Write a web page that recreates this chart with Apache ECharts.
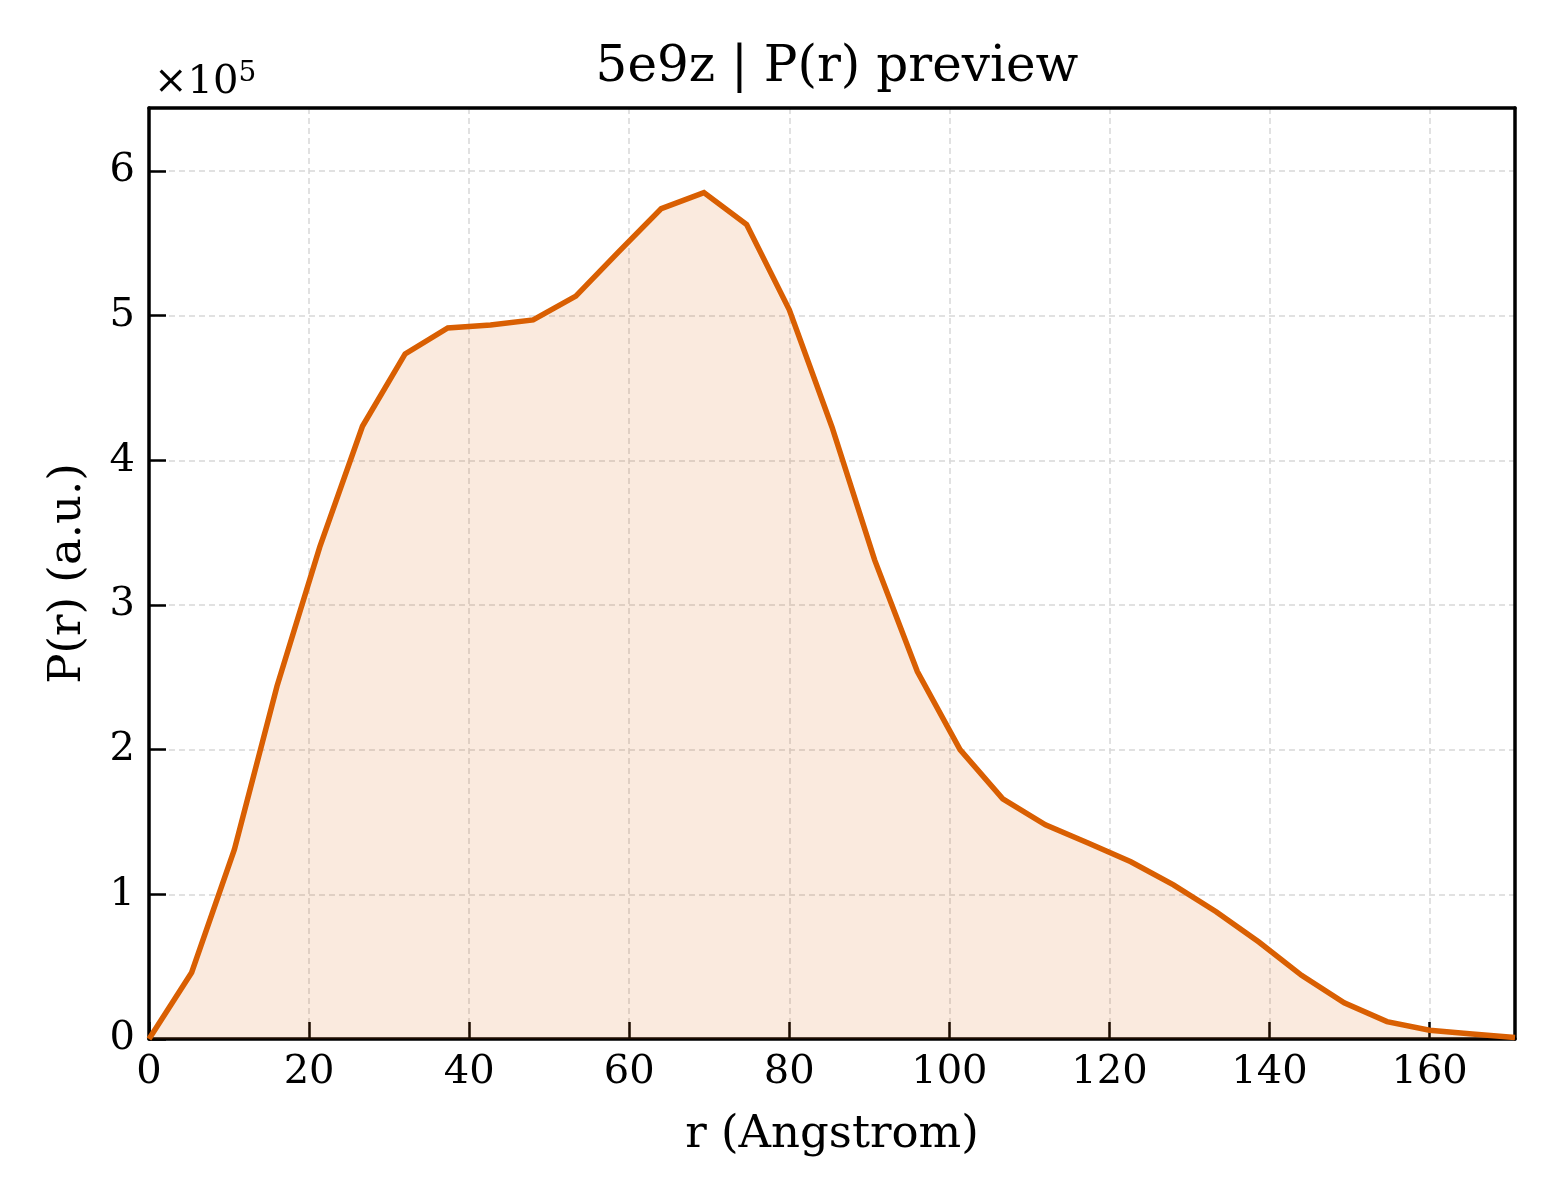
<!DOCTYPE html>
<html>
<head>
<meta charset="utf-8">
<script src="https://cdn.jsdelivr.net/npm/echarts@6/dist/echarts.min.js"></script>
<style>
  html, body { margin: 0; padding: 0; background: #fff; }
  #chart { width: 1560px; height: 1200px; }
</style>
</head>
<body>
<div id="chart"></div>
<script>
// r in Angstrom, P(r) in units of 1e5
const rValues = [0, 5.33, 10.67, 16, 21.33, 26.67, 32, 37.33, 42.67, 48, 53.33,
  58.67, 64, 69.33, 74.67, 80, 85.33, 90.67, 96, 101.33, 106.67, 112, 117.33,
  122.67, 128, 133.33, 138.67, 144, 149.33, 154.67, 160, 165.33, 170.67];
const prValues = [0, 0.46, 1.31, 2.44, 3.40, 4.235, 4.735, 4.915, 4.935, 4.97, 5.135,
  5.44, 5.74, 5.85, 5.63, 5.04, 4.23, 3.31, 2.54, 2.00, 1.66, 1.48, 1.355,
  1.225, 1.065, 0.88, 0.67, 0.44, 0.25, 0.12, 0.06, 0.035, 0.01];
const xTicks = [0, 20, 40, 60, 80, 100, 120, 140, 160];
const yTicks = [0, 1, 2, 3, 4, 5, 6];

const FONT = 'DejaVu Serif';
const lineColor = '#d95f02';
const xMax = rValues[rValues.length - 1];
const yMax = 6.435;

// plain frame axes for the top and right spines
const frameAxis = {
    axisLine: {show: true, onZero: false, lineStyle: {color: '#000', width: 3.5}},
    axisTick: {show: false},
    axisLabel: {show: false},
    splitLine: {show: false}
};

let chart = echarts.init(document.getElementById('chart'));
chart.setOption({
    animation: false,
    backgroundColor: '#fff',
    title: [{
        text: '5e9z | P(r) preview',
        left: 832,
        top: 38,
        textAlign: 'center',
        textStyle: {fontFamily: FONT, fontSize: 50, fontWeight: 'normal', color: '#000'}
    }, {
        text: '{b|×10}{s|5}',
        left: 149,
        top: 55,
        textStyle: {
            fontWeight: 'normal',
            rich: {
                b: {fontFamily: FONT, fontSize: 40, fontWeight: 'normal', color: '#000'},
                s: {fontFamily: FONT, fontSize: 28, fontWeight: 'normal', color: '#000', padding: [0, 0, 18, 0]}
            }
        }
    }],
    grid: {left: 149, right: 45, top: 108, bottom: 161},
    xAxis: [{
        type: 'value',
        min: 0,
        max: xMax,
        interval: 20,
        name: 'r (Angstrom)',
        nameLocation: 'middle',
        nameGap: 74,
        nameTextStyle: {fontFamily: FONT, fontSize: 45, color: '#000'},
        axisLine: {show: true, onZero: false, lineStyle: {color: '#000', width: 3.5}},
        axisTick: {show: true, inside: true, length: 17, lineStyle: {color: '#000', width: 2.5}},
        axisLabel: {
            fontFamily: FONT, fontSize: 40, color: '#000', margin: 14,
            showMaxLabel: false,
            formatter: v => xTicks.includes(v) ? String(v) : ''
        },
        splitLine: {show: true, lineStyle: {color: '#d8d8d8', width: 1.5, type: [6, 4]}}
    }, Object.assign({type: 'value', position: 'top', min: 0, max: xMax}, frameAxis)],
    yAxis: [{
        type: 'value',
        min: 0,
        max: yMax,
        interval: 1,
        name: 'P(r) (a.u.)',
        nameLocation: 'middle',
        nameGap: 58,
        nameTextStyle: {fontFamily: FONT, fontSize: 45, color: '#000'},
        axisLine: {show: true, onZero: false, lineStyle: {color: '#000', width: 3.5}},
        axisTick: {show: true, inside: true, length: 17, lineStyle: {color: '#000', width: 2.5}},
        axisLabel: {
            fontFamily: FONT, fontSize: 40, color: '#000', margin: 14,
            showMaxLabel: false,
            formatter: v => yTicks.includes(v) ? String(v) : ''
        },
        splitLine: {show: true, lineStyle: {color: '#d8d8d8', width: 1.5, type: [6, 4]}}
    }, Object.assign({type: 'value', position: 'right', min: 0, max: yMax}, frameAxis)],
    series: [{
        type: 'line',
        xAxisIndex: 0,
        yAxisIndex: 0,
        data: rValues.map((r, i) => [r, prValues[i]]),
        showSymbol: false,
        symbol: 'none',
        lineStyle: {color: lineColor, width: 5.5, join: 'miter'},
        areaStyle: {color: lineColor, opacity: 0.13},
        z: 3
    }]
});
</script>
</body>
</html>
